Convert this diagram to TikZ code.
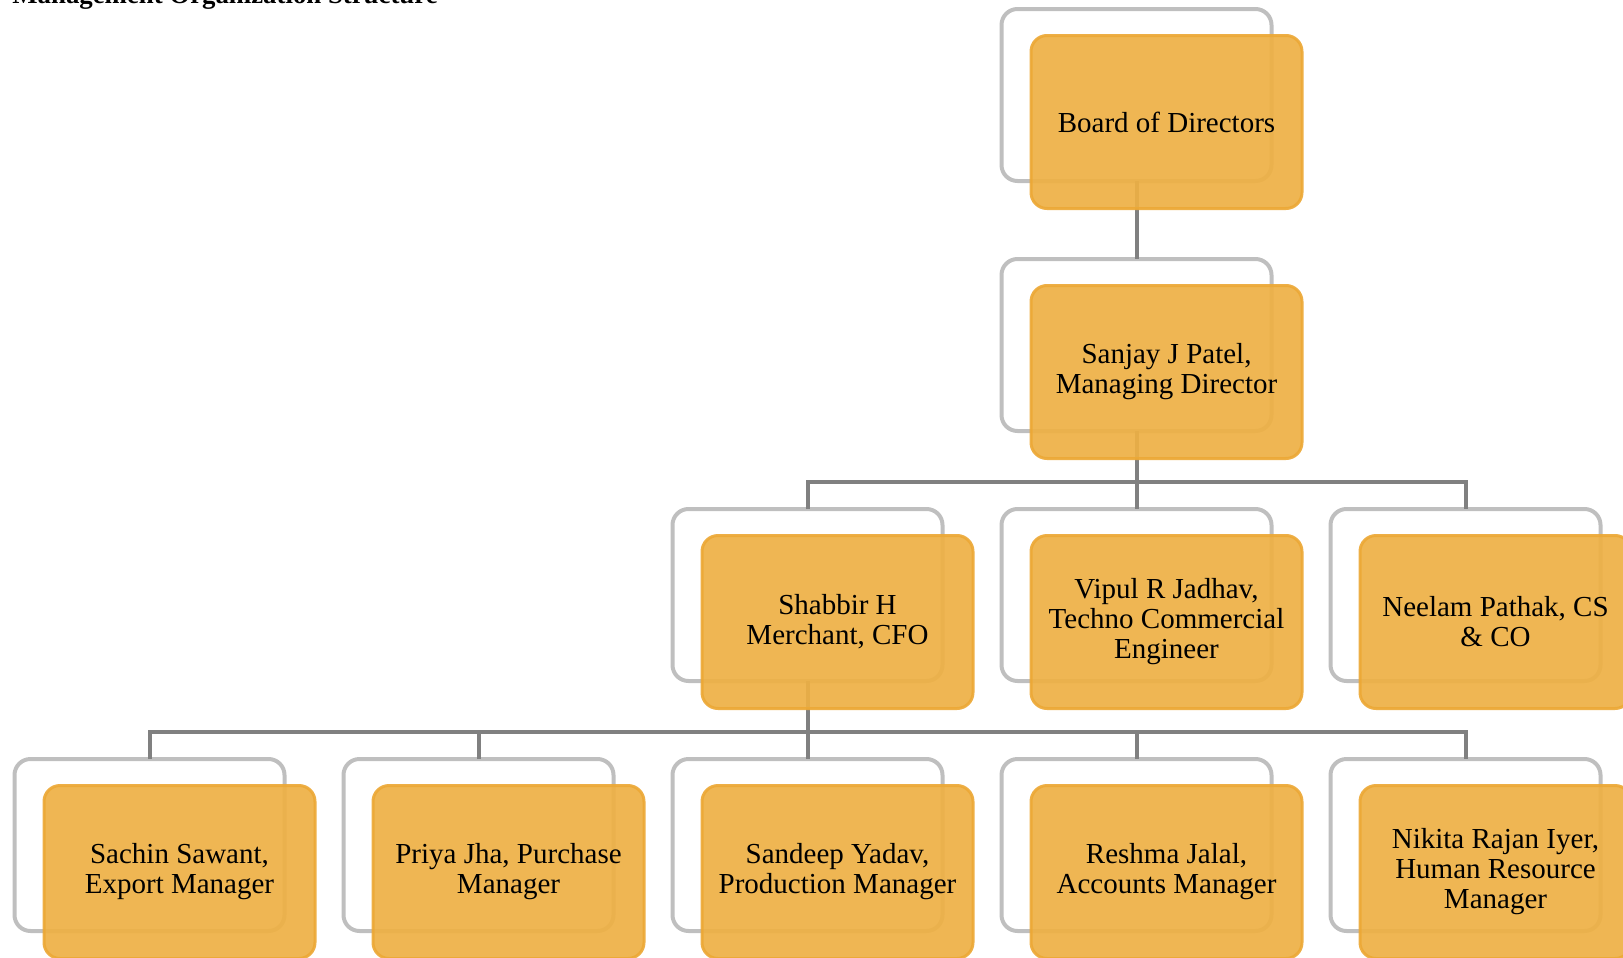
\documentclass[tikz,border=0pt]{standalone}
\usepackage{fontspec}
\setmainfont{Liberation Serif}
\usetikzlibrary{positioning}
\definecolor{boxorange}{RGB}{238,176,68}
\definecolor{boxedge}{RGB}{236,168,54}
\definecolor{framegray}{RGB}{191,191,191}
\definecolor{linkgray}{RGB}{128,128,128}
\tikzset{node distance=39pt, % vertical gap between two levels
  back/.style={ % grey frame behind each post
    draw=framegray, line width=2pt, rounded corners=8pt,
    minimum width=135pt, minimum height=86pt, inner sep=0pt, outer sep=0pt},
  post/.style={ % orange box with the name
    fill=boxorange, draw=boxedge, line width=1.5pt, opacity=0.92,
    text opacity=1, rounded corners=8pt, align=center,
    minimum width=135.5pt, minimum height=86.5pt, inner sep=0pt,
    font=\fontsize{14.5}{15}\selectfont},
  link/.style={draw=linkgray, line width=2pt}}

\begin{document}
\begin{tikzpicture}[x=0.5pt,y=-0.5pt]
    \clip (0,0) rectangle (1623,958);
    \node[anchor=base west, inner sep=0pt, font=\bfseries\fontsize{13.4}{15}\selectfont] (title) at (12,3.5) {Management Organization Structure};
    % grey frames
    \node[back] (bod) at (1136.5,95) {};
    \node[back, below=of bod] (md) {};
    \node[back, below=of md] (tce) {};
    \node[back, left=29.5pt of tce] (cfo) {};
    \node[back, right=29.5pt of tce] (cs) {};
    \node[back, below=of cfo] (prod) {};
    \node[back, left=29.5pt of prod] (pur) {};
    \node[back, left=29.5pt of pur] (exp) {};
    \node[back, below=of tce] (acc) {};
    \node[back, below=of cs] (hr) {};
    % connectors
    \draw[link] (bod.south) -- (md.north);
    \draw[link] (md.south) -- ++(0,51) coordinate (j1);
    \draw[link] (cfo.north) |- (j1) -| (cs.north);
    \draw[link] (j1) -- (tce.north);
    \draw[link] (cfo.south) -- ++(0,51) coordinate (j2);
    \draw[link] (exp.north) |- (j2) -| (hr.north);
    \draw[link] (pur.north) -- (pur.north |- j2);
    \draw[link] (j2) -- (prod.north);
    \draw[link] (acc.north) -- (acc.north |- j2);
    % orange boxes
    \node[post] (bod-t) at ([shift={(30,27)}]bod) {Board of Directors};
    \node[post] (md-t) at ([shift={(30,27)}]md) {Sanjay J Patel,\\Managing Director};
    \node[post] (cfo-t) at ([shift={(30,27)}]cfo) {Shabbir H\\Merchant, CFO};
    \node[post] (tce-t) at ([shift={(30,27)}]tce) {Vipul R Jadhav,\\Techno Commercial\\Engineer};
    \node[post] (cs-t) at ([shift={(30,27)}]cs) {Neelam Pathak, CS\\\& CO};
    \node[post] (exp-t) at ([shift={(30,27)}]exp) {Sachin Sawant,\\Export Manager};
    \node[post] (pur-t) at ([shift={(30,27)}]pur) {Priya Jha, Purchase\\Manager};
    \node[post] (prod-t) at ([shift={(30,27)}]prod) {Sandeep Yadav,\\Production Manager};
    \node[post] (acc-t) at ([shift={(30,27)}]acc) {Reshma Jalal,\\Accounts Manager};
    \node[post] (hr-t) at ([shift={(30,27)}]hr) {Nikita Rajan Iyer,\\Human Resource\\Manager};
\end{tikzpicture}
\end{document}
